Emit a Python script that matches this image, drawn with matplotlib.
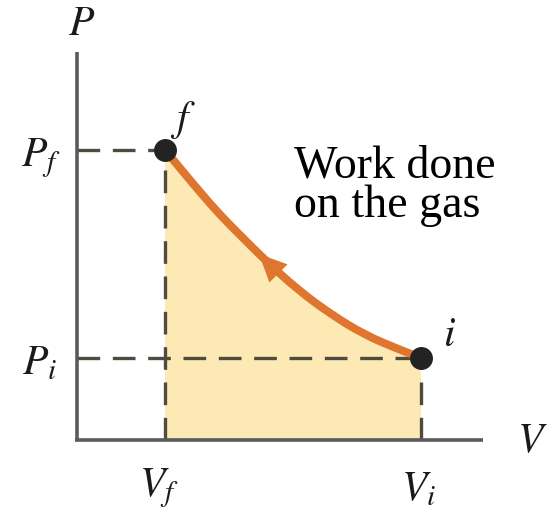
import matplotlib
matplotlib.use("Agg")
import matplotlib.pyplot as plt
from matplotlib.path import Path
from matplotlib.patches import PathPatch

plt.rcParams["mathtext.fontset"] = "stix"

# Compression path from state i to state f (V, P in arbitrary units)
vol = [0.88, 1.21, 1.45, 1.65, 1.88, 2.21, 2.55, 2.88, 3.21, 3.44]
pres = [2.90, 2.50, 2.23, 2.03, 1.80, 1.50, 1.25, 1.05, 0.91, 0.82]

V_f, P_f = vol[0], pres[0]
V_i, P_i = vol[-1], pres[-1]

orange = "#DF7630"
fill_col = "#FDE9B3"
axis_col = "#5a5a5a"
dash_col = "#4e4b40"
dot_col = "#232323"


def smooth_path(xs, ys):
    """Quadratic-Bezier path using the points as control points."""
    pts = list(zip(xs, ys))
    verts = [pts[0]]
    codes = [Path.MOVETO]
    for k in range(1, len(pts) - 1):
        if k == len(pts) - 2:
            end = pts[-1]
        else:
            end = ((pts[k][0] + pts[k + 1][0]) / 2, (pts[k][1] + pts[k + 1][1]) / 2)
        verts += [pts[k], end]
        codes += [Path.CURVE3, Path.CURVE3]
    return verts, codes


fig = plt.figure(figsize=(5.49, 5.13), dpi=100)
ax = fig.add_axes([0, 0, 1, 1])
ax.set_xlim(-0.77, 4.72)
ax.set_ylim(-0.73, 4.40)
ax.set_axis_off()

verts, codes = smooth_path(vol, pres)

# shaded work area under the curve
area_verts = verts + [(V_i, 0), (V_f, 0), (V_f, P_f)]
area_codes = codes + [Path.LINETO, Path.LINETO, Path.CLOSEPOLY]
ax.add_patch(PathPatch(Path(area_verts, area_codes), facecolor=fill_col,
                       edgecolor="none", zorder=1))

# axes
ax.plot([0, 0], [0, 3.88], color=axis_col, lw=2.6, solid_capstyle="butt", zorder=3)
ax.plot([-0.02, 4.06], [0, 0], color=axis_col, lw=2.6, solid_capstyle="butt", zorder=3)

# dashed guide lines
dash = dict(color=dash_col, lw=2.4, dashes=(6.8, 3.8), zorder=2)
ax.plot([0, V_f], [P_f, P_f], **dash)
ax.plot([V_f, V_f], [0, P_f], **dash)
ax.plot([0, V_i], [P_i, P_i], **dash)
ax.plot([V_i, V_i], [0, P_i], **dash)

# process curve
ax.add_patch(PathPatch(Path(verts, codes), facecolor="none", edgecolor=orange,
                       lw=5.8, capstyle="round", joinstyle="round", zorder=4))
ax.annotate("", xy=(1.82, 1.86), xytext=(1.97, 1.71),
            arrowprops=dict(arrowstyle="-|>,head_length=0.9,head_width=0.42",
                            mutation_scale=22, color=orange, lw=0,
                            shrinkA=0, shrinkB=0),
            zorder=5)

# end states
ax.plot([V_f, V_i], [P_f, P_i], "o", color=dot_col, ms=15.5, zorder=6)

lab = dict(fontsize=30, ha="center", va="center", color="#1a1a1a")
ax.text(0.05, 4.17, r"$P$", **lab)
ax.text(-0.36, 2.82, r"$P_f$", **lab)
ax.text(-0.37, 0.78, r"$P_i$", **lab)
ax.text(0.82, -0.48, r"$V_f$", **lab)
ax.text(3.42, -0.48, r"$V_i$", **lab)
ax.text(1.06, 3.20, r"$f$", **lab)
ax.text(3.72, 1.06, r"$i$", **lab)
ax.text(4.71, 0.0, r"$V$", fontsize=30, ha="right", va="center", color="#1a1a1a")

txt = dict(fontsize=33, family="Liberation Serif", ha="left", va="baseline", color="black")
ax.text(2.17, 2.63, "Work done", **txt)
ax.text(2.17, 2.23, "on the gas", **txt)

fig.savefig("out.png", dpi=100)
